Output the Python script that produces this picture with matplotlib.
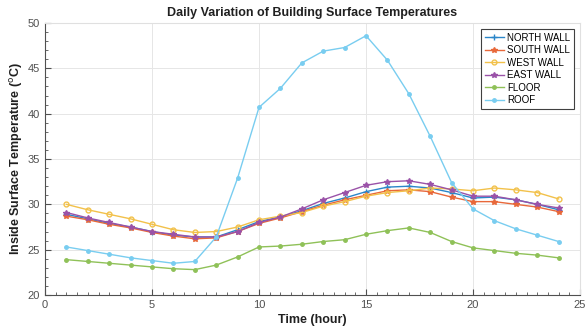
import matplotlib.pyplot as plt
from matplotlib.ticker import MultipleLocator

plt.rcParams['font.family'] = ['Liberation Sans', 'DejaVu Sans']

# heures
hours = list(range(1, 25))

# temperatures
north_wall = [28.9, 28.4, 27.9, 27.5, 27.0, 26.6, 26.4, 26.4, 27.2, 28.1, 28.6, 29.3,
              30.1, 30.7, 31.4, 31.9, 32.0, 31.8, 31.3, 30.7, 30.8, 30.5, 30.0, 29.4]
south_wall = [28.7, 28.3, 27.8, 27.4, 26.9, 26.5, 26.2, 26.3, 27.0, 27.9, 28.5, 29.2,
              29.9, 30.5, 31.0, 31.5, 31.6, 31.4, 30.8, 30.3, 30.3, 30.0, 29.7, 29.2]
west_wall = [30.0, 29.4, 28.9, 28.4, 27.8, 27.2, 26.9, 27.0, 27.5, 28.3, 28.7, 29.1,
             29.8, 30.3, 30.9, 31.3, 31.5, 31.8, 31.7, 31.5, 31.8, 31.6, 31.3, 30.6]
east_wall = [29.1, 28.5, 28.0, 27.5, 27.0, 26.7, 26.4, 26.4, 27.0, 28.0, 28.6, 29.5,
             30.5, 31.3, 32.1, 32.5, 32.6, 32.2, 31.6, 30.9, 30.9, 30.5, 30.0, 29.6]
floor = [23.9, 23.7, 23.5, 23.3, 23.1, 22.9, 22.8, 23.3, 24.2, 25.3, 25.4, 25.6,
         25.9, 26.1, 26.7, 27.1, 27.4, 26.9, 25.9, 25.2, 24.9, 24.6, 24.4, 24.1]
roof = [25.3, 24.9, 24.5, 24.1, 23.8, 23.5, 23.7, 26.4, 32.9, 40.7, 42.8, 45.6,
        46.9, 47.3, 48.6, 45.9, 42.2, 37.5, 32.4, 29.5, 28.2, 27.3, 26.6, 25.9]

fig = plt.figure(figsize=(5.87, 3.29), dpi=100)
ax = fig.add_axes([0.0767, 0.1033, 0.9114, 0.8267])

ax.plot(hours, north_wall, color='#2a86c9', marker='+', ms=4, lw=1, label='NORTH WALL')
ax.plot(hours, south_wall, color='#e8683a', marker='*', ms=4, lw=1, label='SOUTH WALL')
ax.plot(hours, west_wall, color='#f2c14a', marker='o', ms=3.5, lw=1, mfc='none', label='WEST WALL')
ax.plot(hours, east_wall, color='#9a52a8', marker='*', ms=4, lw=1, label='EAST WALL')
ax.plot(hours, floor, color='#8fc158', marker='o', ms=2.5, lw=1, label='FLOOR')
ax.plot(hours, roof, color='#79cdf0', marker='o', ms=2.5, lw=1, label='ROOF')

ax.set_xlim(0, 25)
ax.set_ylim(20, 50)
ax.xaxis.set_major_locator(MultipleLocator(5))
ax.xaxis.set_minor_locator(MultipleLocator(0.5))
ax.yaxis.set_major_locator(MultipleLocator(5))
ax.yaxis.set_minor_locator(MultipleLocator(1))
ax.tick_params(which='both', direction='in', top=False, right=False,
               colors='#505050', labelsize=8)
ax.tick_params(which='major', length=4)
ax.tick_params(which='minor', length=2)
ax.grid(True, which='major', color='#e6e6e6', lw=0.7)
ax.set_axisbelow(True)
for s in ['left', 'bottom']:
    ax.spines[s].set_color('#505050')
for s in ['top', 'right']:
    ax.spines[s].set_color('#e0e0e0')

ax.set_title('Daily Variation of Building Surface Temperatures',
             fontsize=9, fontweight='bold', color='#202020', pad=5)
ax.set_xlabel('Time (hour)', fontsize=9, fontweight='bold', color='#202020', labelpad=3)
ax.set_ylabel(r'Inside Surface Temperature ($^{\mathrm{o}}$C)', fontsize=9,
              fontweight='bold', color='#202020', labelpad=2)

leg = ax.legend(loc='upper right', bbox_to_anchor=(0.989, 0.978), borderaxespad=0,
                fontsize=7, fancybox=False, edgecolor='#404040', framealpha=1,
                handlelength=2.0, handletextpad=0.3, labelspacing=0.25,
                borderpad=0.4)
leg.get_frame().set_linewidth(0.8)

fig.savefig('out.png', dpi=100)
